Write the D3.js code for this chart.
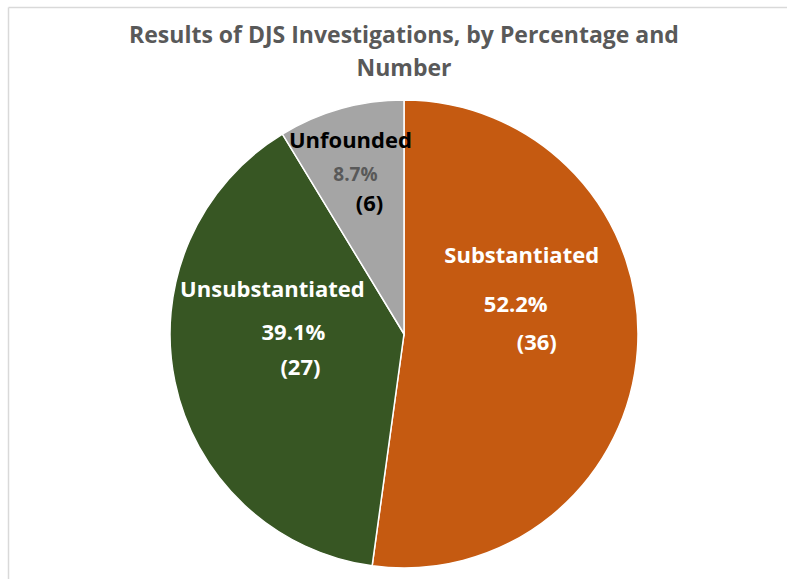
<!DOCTYPE html>
<html>
<head>
<meta charset="utf-8">
<script src="https://cdn.jsdelivr.net/npm/d3@7"></script>
<style>
  html, body { margin: 0; padding: 0; background: #fff; }
  svg { display: block; }
  text { font-family: "Open Sans", "Noto Sans", sans-serif; font-weight: 700; }
</style>
</head>
<body>
<svg id="chart" width="787" height="579"></svg>
<script>
// Investigation outcomes
const categories = ["Substantiated", "Unsubstantiated", "Unfounded"];
const counts = [36, 27, 6];
const percentLabels = ["52.2%", "39.1%", "8.7%"];
const countLabels = ["(36)", "(27)", "(6)"];

const colors = ["#C55A11", "#375623", "#A5A5A5"];
const nameColors = ["#ffffff", "#ffffff", "#000000"];
const pctColors = ["#ffffff", "#ffffff", "#595959"];
const numColors = ["#ffffff", "#ffffff", "#000000"];
const pctSizes = [22, 22, 19];

// label offsets from the slice centroid: [name, percent, count]
const labelOffsets = [
  [[1, -79], [-5, -30], [16, 8]],
  [[-17, -61], [4, -18], [11, 17]],
  [[-22, -73], [-17, -40], [-3, -10]]
];

const W = 787, H = 579;
const cx = 404, cy = 334, R = 234;
const svg = d3.select("#chart");

// frame lines
svg.append("line").attr("x1", 8.5).attr("y1", 7.5).attr("x2", W).attr("y2", 7.5)
  .attr("stroke", "#d9d9d9").attr("stroke-width", 1.5);
svg.append("line").attr("x1", 8.5).attr("y1", 7.5).attr("x2", 8.5).attr("y2", H)
  .attr("stroke", "#d9d9d9").attr("stroke-width", 1.5);

// title
const title = svg.append("text").attr("text-anchor", "middle")
  .attr("fill", "#595959").style("font-size", "23px");
title.append("tspan").attr("x", 404).attr("y", 43).text("Results of DJS Investigations, by Percentage and");
title.append("tspan").attr("x", 404).attr("y", 76).text("Number");

const data = categories.map((c, i) => ({ name: c, value: counts[i], i }));
const pie = d3.pie().sort(null).value(d => d.value);
const arc = d3.arc().innerRadius(0).outerRadius(R);
const mid = d3.arc().innerRadius(R * 0.5).outerRadius(R * 0.5);

const g = svg.append("g").attr("transform", `translate(${cx},${cy})`);
const arcs = pie(data);

g.selectAll("path.slice").data(arcs).enter().append("path")
  .attr("class", "slice")
  .attr("d", arc)
  .attr("fill", d => colors[d.data.i])
  .attr("stroke", "#ffffff")
  .attr("stroke-width", 1.5);

const labels = g.selectAll("g.lab").data(arcs).enter().append("g").attr("class", "lab")
  .attr("transform", d => { const c = mid.centroid(d); return `translate(${c[0]},${c[1]})`; });

labels.append("text").attr("text-anchor", "middle")
  .attr("x", d => labelOffsets[d.data.i][0][0]).attr("y", d => labelOffsets[d.data.i][0][1])
  .attr("fill", d => nameColors[d.data.i]).style("font-size", "22px")
  .text(d => d.data.name);
labels.append("text").attr("text-anchor", "middle")
  .attr("x", d => labelOffsets[d.data.i][1][0]).attr("y", d => labelOffsets[d.data.i][1][1])
  .attr("fill", d => pctColors[d.data.i]).style("font-size", d => pctSizes[d.data.i] + "px")
  .text(d => percentLabels[d.data.i]);
labels.append("text").attr("text-anchor", "middle")
  .attr("x", d => labelOffsets[d.data.i][2][0]).attr("y", d => labelOffsets[d.data.i][2][1])
  .attr("fill", d => numColors[d.data.i]).style("font-size", "22px")
  .text(d => countLabels[d.data.i]);
</script>
</body>
</html>
